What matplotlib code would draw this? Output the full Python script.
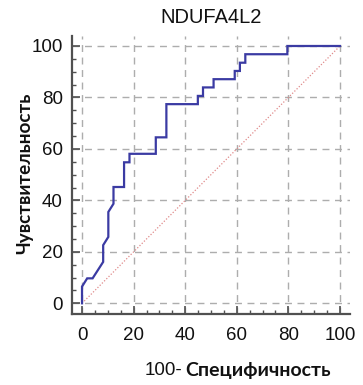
import matplotlib
matplotlib.use("Agg")
import matplotlib.pyplot as plt
from matplotlib.ticker import MultipleLocator

# ROC curve vertices: 100 - specificity (%) and sensitivity (%)
fpr = [0.0, 0.0, 2.0, 4.1, 8.2, 8.2, 10.2, 10.2, 12.2, 12.2, 16.3, 16.3,
       18.4, 18.4, 28.6, 28.6, 32.7, 32.7, 44.9, 44.9, 46.9, 46.9, 51.0,
       51.0, 59.2, 59.2, 61.2, 61.2, 63.3, 63.3, 79.6, 79.6, 100.0]
tpr = [0.0, 6.5, 9.7, 9.7, 16.1, 22.6, 25.8, 35.5, 38.7, 45.2, 45.2, 54.8,
       54.8, 58.1, 58.1, 64.5, 64.5, 77.4, 77.4, 80.6, 80.6, 83.9, 83.9,
       87.1, 87.1, 90.3, 90.3, 93.5, 93.5, 96.8, 96.8, 100.0, 100.0]
reference = [0, 100]
ticks = [0, 20, 40, 60, 80, 100]

title = "NDUFA4L2"
ylabel = "Чувствительность"
xlabel_prefix = "100-"
xlabel_main = "Специфичность"

W, H = 363, 385
fig = plt.figure(figsize=(W / 100, H / 100), dpi=100)
ax = fig.add_axes([71.7 / W, 1 - 313.6 / H, 278.6 / W, 277.9 / H])

ax.set_xlim(-4, 104)
ax.set_ylim(-4, 104)

grid_kw = dict(color="#adadad", lw=1.0, ls=(0, (5, 4)), zorder=1)
for t in ticks:
    ax.axvline(t, **grid_kw)
    ax.axhline(t, **grid_kw)

ax.plot(reference, reference, color="#e08a8a", lw=0.9, ls=(0, (1, 1.5)), zorder=2)
ax.plot(fpr, tpr, color="#3b3ba3", lw=1.6, zorder=3, solid_joinstyle="miter")

ax.set_xticks(ticks)
ax.set_yticks(ticks)
ax.xaxis.set_minor_locator(MultipleLocator(5))
ax.yaxis.set_minor_locator(MultipleLocator(5))

for side in ("top", "right"):
    ax.spines[side].set_visible(False)
for side in ("left", "bottom"):
    ax.spines[side].set_color("#505050")
    ax.spines[side].set_linewidth(1.6)

ax.tick_params(which="major", direction="in", length=5.5, width=1.2,
               color="#505050", labelsize=13.5, labelcolor="#111111")
ax.tick_params(which="minor", direction="in", length=3, width=1.0,
               color="#505050")
ax.tick_params(axis="x", which="major", pad=9.5)
ax.tick_params(axis="y", which="major", pad=6.5)
for lab in ax.get_xticklabels() + ax.get_yticklabels():
    lab.set_fontfamily("Liberation Sans")

fig.text(211 / W, 1 - 23.3 / H, title, ha="center", va="baseline",
         family="Liberation Sans", fontsize=14.5, color="#111111")

fig.text(25 / W, 1 - 173 / H, ylabel, ha="center", va="center",
         rotation=90, family="Lato", fontweight="bold", fontsize=13.6,
         color="#111111")

prefix = fig.text(145 / W, 1 - 375 / H, xlabel_prefix, ha="left",
                  va="baseline", family="Liberation Sans", fontsize=13.5,
                  color="#111111")
ax.annotate(xlabel_main, xy=(1, 0), xycoords=prefix, xytext=(2, 0),
            textcoords="offset pixels", ha="left", va="bottom",
            family="Lato", fontweight="bold", fontsize=14,
            color="#111111", annotation_clip=False)

fig.savefig("out.png", dpi=100)
